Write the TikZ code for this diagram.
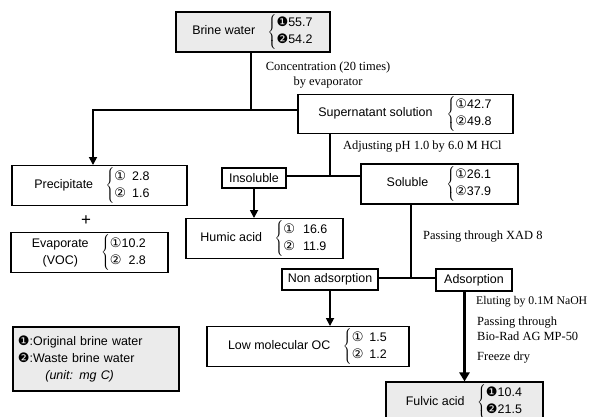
\documentclass[tikz,border=0pt]{standalone}
\usepackage{fontspec}
\setmainfont{Liberation Sans}
\newfontfamily\notefont{Liberation Serif}
\newfontfamily\symfont[Scale=1.05]{DejaVu Sans}
\usetikzlibrary{arrows.meta}

\newcommand{\wone}{{\symfont ①}}
\newcommand{\wtwo}{{\symfont ②}}
\newcommand{\bone}{{\symfont ❶}}
\newcommand{\btwo}{{\symfont ❷}}
\newcommand{\amounts}[4][\quad]{#2#1$\left\{\begin{tabular}{@{}l@{}}#3\\#4\end{tabular}\right.$}

\begin{document}
\begin{tikzpicture}[x=1bp, y=-1bp, >={Triangle[length=8bp, width=8bp]},
  box/.style={draw, line width=1.1bp, inner sep=2bp, align=center, font=\fontsize{12.5}{17}\selectfont},
  shaded/.style={box, fill=black!8},
  link/.style={line width=1.7bp},
  note/.style={inner sep=0pt, font={\notefont\fontsize{12.5}{15}\selectfont}}]
  \useasboundingbox[fill=white] (0,0) rectangle (600,416);

  \node[shaded, minimum width=154bp, minimum height=40bp] (brine) at (253,32) {\amounts{Brine water}{\bone55.7}{\btwo54.2}};
  \node[box, minimum width=215bp, minimum height=38bp] (super) at (405.5,114) {\amounts[\hspace{14bp}]{Supernatant solution}{\wone42.7}{\wtwo49.8}};
  \node[box, minimum width=175bp, minimum height=39bp] (precip) at (99.5,185.5) {\amounts{Precipitate}{\wone\hspace{6bp}2.8}{\wtwo\hspace{6bp}1.6}\hspace*{14bp}};
  \node[inner sep=0pt, font=\fontsize{17}{17}\selectfont] (plus) at (86,221) {+};
  \node[box, minimum width=157bp, minimum height=39bp] (evap) at (89.5,252.5) {\amounts{\begin{tabular}{@{}c@{}}Evaporate\\(VOC)\end{tabular}}{\wone10.2}{\wtwo\phantom{1}2.8}};
  \node[box, minimum width=64bp, minimum height=20bp] (insol) at (254,178) {Insoluble};
  \node[box, minimum width=157bp, minimum height=40bp] (soluble) at (439.5,184) {\amounts[\hspace{18bp}]{Soluble}{\wone26.1}{\wtwo37.9}};
  \node[box, minimum width=157bp, minimum height=39bp] (humic) at (264.5,238.5) {\amounts{Humic acid}{\wone\hspace{8bp}16.6}{\wtwo\hspace{8bp}11.9}};
  \node[box, minimum width=96bp, minimum height=21bp] (nonads) at (330,279.5) {Non adsorption};
  \node[box, minimum width=76bp, minimum height=22bp] (ads) at (474,280) {Adsorption};
  \node[box, minimum width=202bp, minimum height=39bp] (lowmol) at (308,346.5) {\amounts{Low molecular OC}{\wone\hspace{6bp}1.5}{\wtwo\hspace{6bp}1.2}};
  \node[shaded, minimum width=157bp, minimum height=40bp] (fulvic) at (464.5,402) {\amounts{Fulvic acid}{\bone10.4}{\btwo21.5}};
  \node[shaded, line width=2.2bp, minimum width=166bp, minimum height=64bp, text width=156bp, align=left] (legend) at (96,359)
    {\bone:Original brine water\\\btwo:Waste brine water\\\hspace*{2.2em}\textit{(unit: mg C)}};

  % process notes
  \node[note, align=center] (concnote) at (328,75) {Concentration (20 times)\\by evaporator};
  \node[note, anchor=west] (phnote) at (343,147) {Adjusting pH 1.0 by 6.0 M HCl};
  \node[note, anchor=west] (xadnote) at (423,237) {Passing through XAD 8};
  \node[note, anchor=west, font={\notefont\fontsize{11.8}{15}\selectfont}] (elunote) at (476,302) {Eluting by 0.1M NaOH};
  \node[note, anchor=west, align=left] (resinnote) at (477,329) {Passing through\\Bio-Rad AG MP-50};
  \node[note, anchor=west] (drynote) at (477,358) {Freeze dry};

  \coordinate (split1) at (251,110);
  \coordinate (split2) at (330,176);
  \coordinate (split3) at (411,278);

  \draw[link] (brine.south -| split1) -- (split1);
  \draw[link, ->] (split1 -| super.west) -- (split1) -| ([xshift=-6.5bp]precip.north);
  \draw[link] (super.south -| split2) -- (split2);
  \draw[link] (insol.east |- split2) -- (split2 -| soluble.west);
  \draw[link, ->] (insol.south) -- (insol.south |- humic.north);
  \draw[link] (soluble.south -| split3) -- (split3);
  \draw[link] (nonads.east |- split3) -- (split3 -| ads.west);
  \draw[link, ->] (nonads.south) -- (nonads.south |- lowmol.north);
  \draw[line width=3.6bp, -{Triangle[length=9bp, width=10bp]}] (ads.south -| fulvic.north) -- (fulvic.north);
\end{tikzpicture}
\end{document}
